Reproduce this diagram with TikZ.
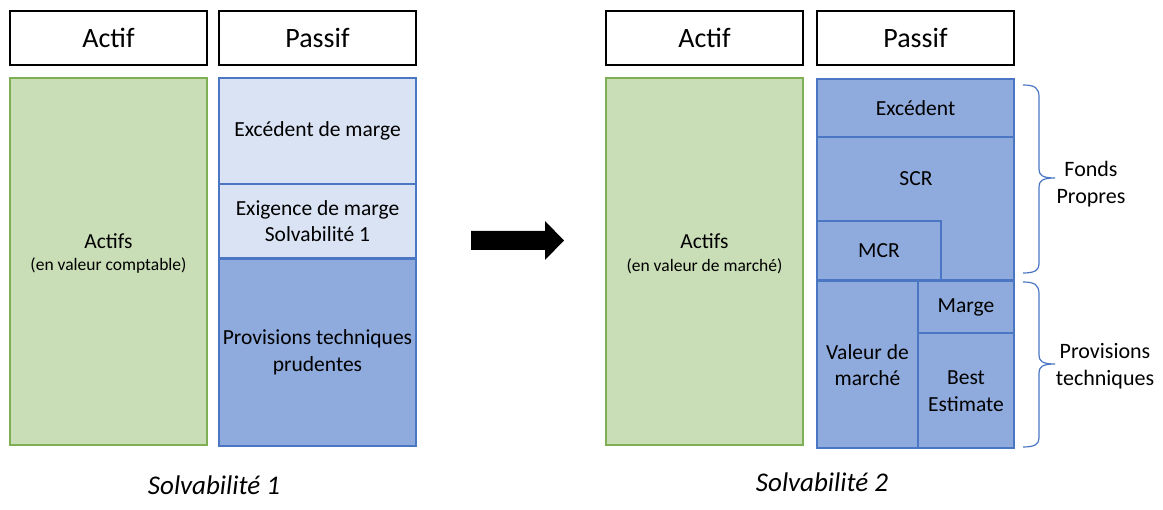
\documentclass[tikz,border=0pt]{standalone}
\usepackage{fontspec}
\setmainfont{Carlito}
\definecolor{actfill}{HTML}{C9DDB6}
\definecolor{actline}{HTML}{7FAF55}
\definecolor{palefill}{HTML}{DAE3F3}
\definecolor{bluefill}{HTML}{8FAADC}
\definecolor{blueline}{HTML}{4A76C4}
\begin{document}
\begin{tikzpicture}[x=1pt,y=-1pt,
  box/.style={rectangle, inner sep=0pt, outer sep=0pt, align=center, font=\fontsize{21.5}{26.5}\selectfont},
  headbox/.style={box, draw=black, line width=2.2pt, fill=white, font=\fontsize{28}{32}\selectfont},
  assetbox/.style={box, draw=actline, line width=2pt, fill=actfill},
  palebox/.style={box, draw=blueline, line width=2pt, fill=palefill},
  bluebox/.style={box, draw=blueline, line width=2pt, fill=bluefill},
  maintxt/.style={font=\fontsize{21.5}{26}\selectfont},
  sub/.style={font=\fontsize{17.5}{20}\selectfont},
  caption/.style={font=\fontsize{27}{30}\selectfont\itshape},
  sidelabel/.style={align=center, font=\fontsize{22}{26.5}\selectfont},
  bracepath/.style={draw=blueline, line width=1.2pt},
  arrowshape/.style={fill=black}
]
\useasboundingbox (0,0) rectangle (1163,510);

% ---- Solvabilité 1 ----
\node[headbox, minimum width=197pt, minimum height=54pt] (h1a) at (108.5,38) {Actif};
\node[headbox, minimum width=197pt, minimum height=54pt] (h1p) at (317.5,38) {Passif};

\node[assetbox, minimum width=197pt, minimum height=367pt] (a1) at (108.5,261.5) {};
\node[maintxt] (a1t) at (108.5,241) {Actifs};
\node[sub] (a1s) at (108.5,266) {(en valeur comptable)};

\node[palebox, minimum width=197pt, minimum height=106pt] (p1exc) at (317.5,131) {Excédent de marge};
\node[palebox, minimum width=197pt, minimum height=74pt] (p1exi) at (317.5,221) {Exigence de marge\\Solvabilité 1};
\node[bluebox, minimum width=197pt, minimum height=187pt] (p1pro) at (317.5,352.5) {Provisions techniques\\prudentes};

\node[caption] (cap1) at (214,485) {Solvabilité 1};

% ---- transition arrow ----
\fill[arrowshape] (471,231) -- (545,231) -- (545,221) -- (564,240.5) -- (545,260) -- (545,250) -- (471,250) -- cycle;

% ---- Solvabilité 2 ----
\node[headbox, minimum width=197pt, minimum height=54pt] (h2a) at (704.5,38) {Actif};
\node[headbox, minimum width=197pt, minimum height=54pt] (h2p) at (915.5,38) {Passif};

\node[assetbox, minimum width=197pt, minimum height=367pt] (a2) at (704.5,261.5) {};
\node[maintxt] (a2t) at (704.5,241) {Actifs};
\node[sub] (a2s) at (704.5,266) {(en valeur de marché)};

\node[bluebox, minimum width=197pt, minimum height=58pt] (p2exc) at (915.5,108) {Excédent};
\node[bluebox, minimum width=197pt, minimum height=143pt] (p2scr) at (915.5,208.5) {};
\node[box] (scrtxt) at (916,179) {SCR};
\node[bluebox, minimum width=124pt, minimum height=59pt] (p2mcr) at (879,250.5) {MCR};
\node[bluebox, minimum width=101pt, minimum height=167pt] (p2vm) at (867.5,365) {Valeur de\\marché};
\node[bluebox, minimum width=96pt, minimum height=52pt] (p2mar) at (966,307) {Marge};
\node[bluebox, minimum width=96pt, minimum height=115pt] (p2be) at (966,391) {Best\\Estimate};

\node[caption] (cap2) at (822,482) {Solvabilité 2};

% ---- braces ----
\draw[bracepath] (1023,85) .. controls (1035,85) and (1039,88) .. (1039,97)
  -- (1039,169) .. controls (1039,175) and (1042,178) .. (1055,178)
  .. controls (1042,178) and (1039,181) .. (1039,187)
  -- (1039,264) .. controls (1039,270) and (1035,273) .. (1023,273);
\draw[bracepath] (1023,282) .. controls (1035,282) and (1039,285) .. (1039,294)
  -- (1039,355) .. controls (1039,361) and (1042,364) .. (1055,364)
  .. controls (1042,364) and (1039,367) .. (1039,373)
  -- (1039,438) .. controls (1039,444) and (1035,447) .. (1023,447);
\node[sidelabel] (fp) at (1091,184) {Fonds\\Propres};
\node[sidelabel] (pt) at (1105,366) {Provisions\\techniques};
\end{tikzpicture}
\end{document}
